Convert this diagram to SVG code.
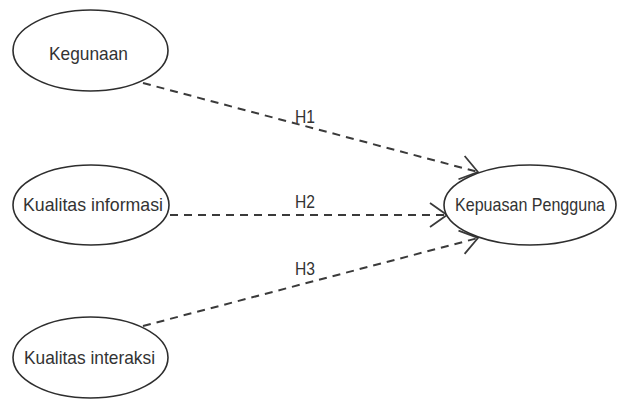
<svg xmlns="http://www.w3.org/2000/svg" width="618" height="401" viewBox="0 0 618 401">
  <style>
    .node ellipse { fill: #ffffff; stroke: #2e2e2e; stroke-width: 1.6; }
    .node text { font-family: "Liberation Sans", Arial, sans-serif; font-size: 18.5px; fill: #333333; text-anchor: middle; }
    .edge { fill: none; stroke: #3a3a3a; stroke-width: 2; stroke-dasharray: 8 6; }
    .lbl { font-family: "Liberation Sans", Arial, sans-serif; font-size: 17.5px; fill: #333333; }
  </style>
  <defs>
    <marker id="arrow" markerUnits="userSpaceOnUse" markerWidth="24" markerHeight="30" viewBox="-20 -15 24 30" refX="0" refY="0" orient="auto" overflow="visible">
      <path d="M -17 -12 L 0 0 L -17 12" fill="none" stroke="#3a3a3a" stroke-width="1.8" stroke-dasharray="none"/>
    </marker>
  </defs>
  <rect width="618" height="401" fill="#ffffff"/>
  <g id="connectors">
    <path class="edge" d="M 143 83 L 478 172" marker-end="url(#arrow)"/>
    <path class="edge" d="M 170 215 L 447 215" marker-end="url(#arrow)"/>
    <path class="edge" d="M 143 326 L 478 238" marker-end="url(#arrow)"/>
    <text class="lbl" x="295" y="123" textLength="20" lengthAdjust="spacingAndGlyphs">H1</text>
    <text class="lbl" x="295" y="208" textLength="20" lengthAdjust="spacingAndGlyphs">H2</text>
    <text class="lbl" x="295" y="275" textLength="20" lengthAdjust="spacingAndGlyphs">H3</text>
  </g>
  <g id="kegunaan" class="node">
    <ellipse cx="90.5" cy="50.5" rx="77.5" ry="40.5"/>
    <text x="88.5" y="60" textLength="79" lengthAdjust="spacingAndGlyphs">Kegunaan</text>
  </g>
  <g id="kualitas-informasi" class="node">
    <ellipse cx="91" cy="205" rx="78" ry="40"/>
    <text x="93" y="211" textLength="140" lengthAdjust="spacingAndGlyphs">Kualitas informasi</text>
  </g>
  <g id="kualitas-interaksi" class="node">
    <ellipse cx="90.5" cy="357.5" rx="77.5" ry="40.5"/>
    <text x="89.5" y="364" textLength="131" lengthAdjust="spacingAndGlyphs">Kualitas interaksi</text>
  </g>
  <g id="kepuasan-pengguna" class="node">
    <ellipse cx="530" cy="205" rx="86" ry="40"/>
    <text x="530" y="211" font-size="17.5" textLength="150" lengthAdjust="spacingAndGlyphs">Kepuasan Pengguna</text>
  </g>
</svg>
